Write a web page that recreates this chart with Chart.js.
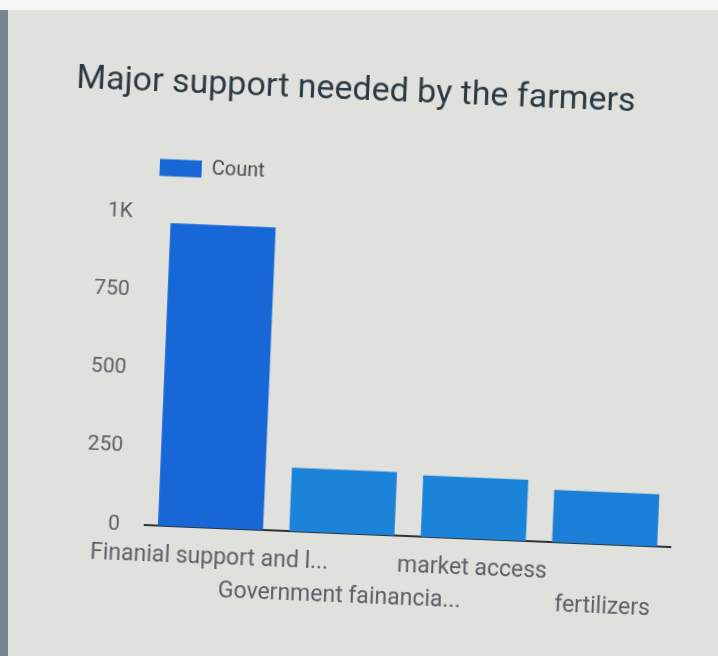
<!DOCTYPE html>
<html>
<head>
<meta charset="utf-8">
<title>Major support needed by the farmers</title>
<script src="https://cdn.jsdelivr.net/npm/chart.js@4"></script>
<style>
  html, body { margin: 0; padding: 0; background: #dfe0dc; overflow: hidden; }
  #frame {
    position: relative;
    width: 718px; height: 656px;
    background: #e0e1dd;
    overflow: hidden;
  }
  #topEdge { position: absolute; left: 0; top: 0; width: 718px; height: 10px; background: #f6f6f6; z-index: 2; }
  #leftEdge { position: absolute; left: 0; top: 10px; width: 8px; height: 646px; background: #76858f; z-index: 2; }
  /* the screen is seen slightly askew */
  canvas {
    position: absolute; left: 8px; top: 10px;
    display: block; transform: rotate(2.4deg); transform-origin: 50% 50%;
  }
</style>
</head>
<body>
<div id="frame">
  <canvas id="chart" width="710" height="646"></canvas>
  <div id="topEdge"></div>
  <div id="leftEdge"></div>
</div>
<script>
// Categories as shown on the axis (long names are cut with an ellipsis)
const categories = ['Finanial support and l...', 'Government fainancia...', 'market access', 'fertilizers'];
// Number of farmers naming each kind of support
const counts = [970, 204, 197, 168];
// Value axis ticks
const yTicks = [0, 250, 500, 750, 1000];
const yTickLabels = ['0', '250', '500', '750', '1K'];
const seriesName = 'Count';

const barColors = ['#1767d6', '#1b84d9', '#1b84d9', '#1c7fd7'];

// Every second label is pushed to a lower row, like a staggered axis
const staggered = categories.map((c, i) => (i % 2 === 1 ? ['', c] : c));

// Places the legend row just above the plot, in line with the first bar
const legendPlacer = {
  id: 'legendPlacer',
  afterLayout(chart) {
    const lg = chart.legend;
    const dx = 135 - lg.left;
    const dy = 146 - lg.top;
    lg.left += dx; lg.right += dx;
    lg.top += dy; lg.bottom += dy;
  }
};

new Chart(document.getElementById('chart'), {
  type: 'bar',
  data: {
    labels: staggered,
    datasets: [{
      label: seriesName,
      data: counts,
      backgroundColor: barColors,
      borderWidth: 0,
      categoryPercentage: 0.8,
      barPercentage: 1.0
    }]
  },
  plugins: [legendPlacer],
  options: {
    responsive: false,
    animation: false,
    layout: { padding: { left: 58, right: 39, top: 61, bottom: 29 } },
    plugins: {
      title: {
        display: true,
        text: 'Major support needed by the farmers',
        align: 'start',
        color: '#2b3a42',
        font: { family: 'Roboto', size: 34, weight: 'normal' },
        padding: { top: 0, bottom: 70 }
      },
      legend: {
        display: true,
        align: 'start',
        labels: {
          boxWidth: 42,
          boxHeight: 17,
          padding: 10,
          color: '#474d52',
          font: { family: 'Roboto', size: 20 },
          generateLabels: () => [{
            text: seriesName,
            fillStyle: '#1767d6',
            strokeStyle: '#1767d6',
            lineWidth: 0,
            fontColor: '#474d52',
            datasetIndex: 0
          }]
        }
      },
      tooltip: { enabled: false }
    },
    scales: {
      x: {
        grid: { display: false, drawTicks: false },
        border: { display: true, color: '#2e3336', width: 2 },
        ticks: {
          color: '#596066',
          font: { family: 'Roboto', size: 23, lineHeight: 1.45 },
          maxRotation: 0,
          autoSkip: false,
          padding: 13
        }
      },
      y: {
        min: 0,
        max: 1000,
        grid: { display: false, drawTicks: false },
        border: { display: false },
        afterFit: (axis) => { axis.width = 87; },
        afterBuildTicks: (axis) => { axis.ticks = yTicks.map(v => ({ value: v })); },
        ticks: {
          color: '#596066',
          font: { family: 'Roboto', size: 21 },
          padding: 25,
          callback: (v) => yTickLabels[yTicks.indexOf(v)]
        }
      }
    }
  }
});
</script>
</body>
</html>
